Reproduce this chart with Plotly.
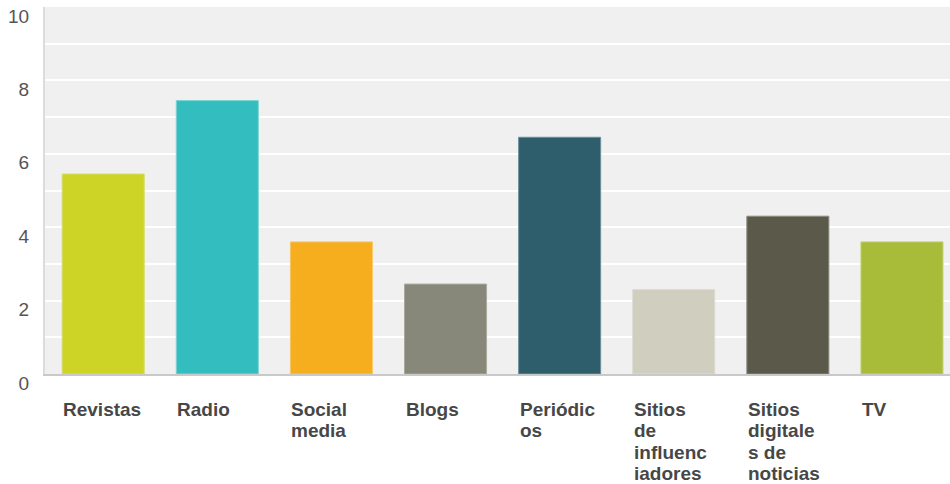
import plotly.graph_objects as go

categories = ["Revistas", "Radio", "Social media", "Blogs", "Periódicos",
              "Sitios de influenciadores", "Sitios digitales de noticias", "TV"]
wrapped_labels = ["Revistas", "Radio", "Social<br>media", "Blogs", "Periódic<br>os",
                  "Sitios<br>de<br>influenc<br>iadores", "Sitios<br>digitale<br>s de<br>noticias", "TV"]
values = [5.45, 7.45, 3.6, 2.45, 6.45, 2.3, 4.3, 3.6]
bar_colors = ["#cdd426", "#33bdbe", "#f6ae1f", "#87877a", "#2e5e6c", "#cfcebf", "#5b5a4a", "#a9bc3a"]
border_colors = ["#d8dd6a", "#7fd3d3", "#f8c767", "#a9a99f", "#6f8f98", "#dcdcd2", "#8d8c81", "#c3d07a"]
y_ticks = [0, 2, 4, 6, 8, 10]

fig = go.Figure()
fig.add_trace(go.Bar(
    x=categories, y=values,
    marker=dict(color=bar_colors, line=dict(color=border_colors, width=1)),
    hoverinfo="x+y",
))

line_gap = 21.5
for cat, lab in zip(categories, wrapped_labels):
    for i, line in enumerate(lab.split("<br>")):
        fig.add_annotation(
            x=cat, y=0, xref="x", yref="paper",
            text=line, showarrow=False,
            xanchor="left", yanchor="middle", align="left",
            xshift=-42, yshift=-35 - i * line_gap,
            font=dict(family="Liberation Sans, Arial, sans-serif", size=19, color="#474747",
                      weight="bold"),
        )

fig.update_layout(
    width=950, height=484,
    margin=dict(l=45, r=0, t=7, b=110),
    paper_bgcolor="white", plot_bgcolor="#f0f0f0",
    bargap=0.281, showlegend=False,
    font=dict(family="Liberation Sans, Arial, sans-serif"),
)
fig.update_xaxes(
    type="category", range=[-0.51, 7.421],
    showticklabels=False, showgrid=False,
    showline=True, linecolor="#c9c9c9", linewidth=2,
)
fig.update_yaxes(
    range=[0, 10], tickvals=y_ticks, ticktext=[str(v) for v in y_ticks],
    showgrid=True, gridcolor="white", gridwidth=1.5,
    minor=dict(dtick=1, showgrid=True, gridcolor="white", gridwidth=1.5),
    zeroline=False,
    showline=True, linecolor="#dcdcdc", linewidth=2,
    tickfont=dict(family="Liberation Sans, Arial, sans-serif", size=19, color="#555555"),
    ticklabelstandoff=10, ticklabelshift=9,
)

fig.write_html("out.html")
